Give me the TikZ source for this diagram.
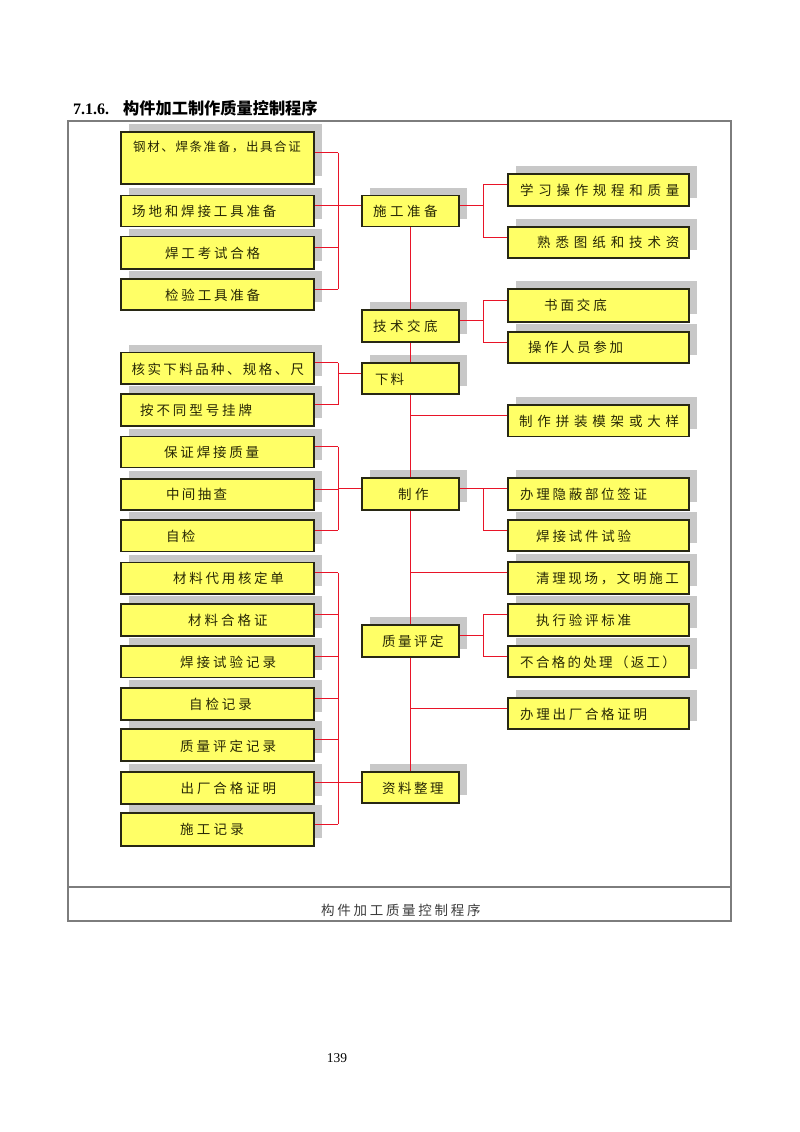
\documentclass[tikz,border=0pt]{standalone}
\usepackage{fontspec}
\setmainfont{Liberation Serif}
\newfontfamily\cjk{Noto Sans CJK SC}
\usetikzlibrary{fit}
\pgfdeclarelayer{bglayer}
\pgfdeclarelayer{shadowlayer}
\pgfdeclarelayer{linelayer}
\pgfsetlayers{bglayer,shadowlayer,linelayer,main}
\definecolor{boxyellow}{RGB}{255,255,102}
\definecolor{boxline}{RGB}{40,40,20}
\definecolor{shadowc}{RGB}{200,200,200}
\definecolor{linkred}{RGB}{232,20,40}
\definecolor{textc}{RGB}{40,40,5}
\definecolor{framec}{RGB}{125,125,125}
\definecolor{capc}{RGB}{60,60,60}
\makeatletter
\newcommand\spaced[2]{\def\my@pitch{#1}\my@spaced#2\relax}
\def\my@spaced#1{\ifx#1\relax\else\makebox[\my@pitch][l]{#1}\expandafter\my@spaced\fi}
\makeatother
\tikzset{
  ybx/.style={rectangle, draw=boxline, line width=1.3pt, fill=boxyellow, inner sep=0pt},
  txt/.style={inner sep=0pt, text=textc, font=\cjk\fontsize{13.5}{15}\selectfont},
  conn/.style={draw=linkred, line width=1pt},
  framestyle/.style={draw=framec, line width=1.4pt}
}
\newcommand\ybox[8]{%
  \begin{pgfonlayer}{shadowlayer}
    \fill[shadowc] (#2+8,#3-8) rectangle (#4+8,#5-8);
  \end{pgfonlayer}
  \node[ybx, fit={(#2,#3) (#4,#5)}] (#1) {};
  \coordinate (#1E) at ([yshift=5.5pt]#1.east);
  \coordinate (#1W) at ([yshift=5.5pt]#1.west);
  \node[txt, anchor=west] (#1t) at (#6,#7) {#8};
}
\begin{document}
\begin{tikzpicture}[x=1pt,y=-1pt]
\begin{pgfonlayer}{bglayer}
\fill[white] (0,0) rectangle (800,1132);
\end{pgfonlayer}
\useasboundingbox (0,0) rectangle (800,1132);

% title
\node[anchor=west, inner sep=0pt] (title) at (73,108)
  {\fontsize{16}{18}\selectfont\bfseries 7.1.6.\hspace{14pt}{\cjk\fontsize{16.2}{18}\selectfont\bfseries 构件加工制作质量控制程序}};

% frame
\draw[framestyle] (68,121) rectangle (731,921);
\draw[framestyle] (68,887) -- (731,887);
\node[anchor=west, inner sep=0pt, text=capc, font=\cjk\fontsize{13.5}{15}\selectfont] (caption) at (321,910)
  {\spaced{16.2pt}{构件加工质量控制程序}};
\node[inner sep=0pt, font=\fontsize{13.5}{15}\selectfont] (pagenum) at (337,1058) {139};

% left boxes
\ybox{L1}{121}{132}{314}{184}{133}{147}{\fontsize{12.5}{14}\selectfont\spaced{14.1pt}{钢材、焊条准备，出具合证}}
\ybox{L2}{121}{195.7}{314}{226.7}{132}{211.5}{\spaced{16.35pt}{场地和焊接工具准备}}
\ybox{L3}{121}{236.7}{314}{269}{165}{253}{\spaced{16.3pt}{焊工考试合格}}
\ybox{L4}{121}{279}{314}{310}{165}{295}{\spaced{16.3pt}{检验工具准备}}
\ybox{L5}{121}{352.7}{314}{384}{131.5}{369}{\spaced{15.9pt}{核实下料品种、规格、尺}}
\ybox{L6}{121}{394}{314}{426}{140}{410}{\spaced{16.4pt}{按不同型号挂牌}}
\ybox{L7}{121}{436.7}{314}{467.7}{164}{452}{\spaced{16.3pt}{保证焊接质量}}
\ybox{L8}{121}{479}{314}{510}{166}{494}{\spaced{15.8pt}{中间抽查}}
\ybox{L9}{121}{520}{314}{551.7}{166}{536.5}{\spaced{15.8pt}{自检}}
\ybox{L10}{121}{562.7}{314}{594}{173}{578}{\spaced{16.2pt}{材料代用核定单}}
\ybox{L11}{121}{604}{314}{636}{188}{620.5}{\spaced{16.5pt}{材料合格证}}
\ybox{L12}{121}{646}{314}{677.7}{180}{662}{\spaced{16.5pt}{焊接试验记录}}
\ybox{L13}{121}{688}{314}{720}{189}{704}{\spaced{16.4pt}{自检记录}}
\ybox{L14}{121}{729}{314}{761}{180}{746}{\spaced{16.5pt}{质量评定记录}}
\ybox{L15}{121}{772}{314}{804}{180.5}{788}{\spaced{16.4pt}{出厂合格证明}}
\ybox{L16}{121}{813}{314}{846}{180}{829}{\spaced{16.7pt}{施工记录}}

% centre boxes
\ybox{C1}{362}{195.7}{459}{226.7}{373}{211.5}{\spaced{17pt}{施工准备}}
\ybox{C2}{362}{310}{459}{342}{373}{326.5}{\spaced{17pt}{技术交底}}
\ybox{C3}{362}{363}{459}{394}{375}{379}{\spaced{15.5pt}{下料}}
\ybox{C4}{362}{478}{459}{510}{398}{494}{\spaced{17pt}{制作}}
\ybox{C5}{362}{625}{459}{657}{382}{641}{\spaced{16pt}{质量评定}}
\ybox{C6}{362}{772}{459}{803}{382}{788}{\spaced{16pt}{资料整理}}

% right boxes
\ybox{R1}{508}{174}{689}{206}{520}{190}{\spaced{18.2pt}{学习操作规程和质量}}
\ybox{R2}{508}{227}{689}{258}{537}{242}{\spaced{18.4pt}{熟悉图纸和技术资}}
\ybox{R3}{508}{289}{689}{322}{544}{305.5}{\spaced{16.4pt}{书面交底}}
\ybox{R4}{508}{332}{689}{363}{528}{347}{\spaced{16.3pt}{操作人员参加}}
\ybox{R5}{508}{405}{689}{436.7}{519}{421}{\spaced{18.3pt}{制作拼装模架或大样}}
\ybox{R6}{508}{478}{689}{510}{520}{494}{\spaced{16.2pt}{办理隐蔽部位签证}}
\ybox{R7}{508}{520}{689}{551}{536}{536.5}{\spaced{16.3pt}{焊接试件试验}}
\ybox{R8}{508}{562}{689}{594}{536}{578}{\spaced{16.15pt}{清理现场，文明施工}}
\ybox{R9}{508}{604}{689}{636}{536}{620.5}{\spaced{16.3pt}{执行验评标准}}
\ybox{R10}{508}{646}{689}{677}{520}{662}{\spaced{15.8pt}{不合格的处理（返工）}}
\ybox{R11}{508}{698}{689}{729}{520}{714}{\spaced{16.2pt}{办理出厂合格证明}}

% connectors
\begin{pgfonlayer}{linelayer}
\coordinate (busL) at (338,0);
\coordinate (busR) at (483,0);
% centre spine
\draw[conn] (C1.south) -- (C6.north);
\foreach \p in {R5W,R8W,R11W} \draw[conn] (\p -| C1.south) -- (\p);
% left group A
\foreach \p in {L1E,L2E,L3E,L4E} \draw[conn] (\p) -- (\p -| busL);
\draw[conn] (L1E -| busL) -- (L4E -| busL);
\draw[conn] (C1W -| busL) -- (C1W);
% left group B
\foreach \p in {L5E,L6E} \draw[conn] (\p) -- (\p -| busL);
\draw[conn] (L5E -| busL) -- (L6E -| busL);
\draw[conn] (C3W -| busL) -- (C3W);
% left group C
\foreach \p in {L7E,L8E,L9E} \draw[conn] (\p) -- (\p -| busL);
\draw[conn] (L7E -| busL) -- (L9E -| busL);
\draw[conn] (C4W -| busL) -- (C4W);
% left group D
\foreach \p in {L10E,L11E,L12E,L13E,L14E,L15E,L16E} \draw[conn] (\p) -- (\p -| busL);
\draw[conn] (L10E -| busL) -- (L16E -| busL);
\draw[conn] (C6W -| busL) -- (C6W);
% right groups
\draw[conn] (C1E) -- (C1E -| busR);
\draw[conn] (R1W -| busR) -- (R2W -| busR);
\foreach \p in {R1W,R2W} \draw[conn] (\p -| busR) -- (\p);
\draw[conn] (C2E) -- (C2E -| busR);
\draw[conn] (R3W -| busR) -- (R4W -| busR);
\foreach \p in {R3W,R4W} \draw[conn] (\p -| busR) -- (\p);
\draw[conn] (C4E) -- (C4E -| busR);
\draw[conn] (R6W -| busR) -- (R7W -| busR);
\foreach \p in {R6W,R7W} \draw[conn] (\p -| busR) -- (\p);
\draw[conn] (C5E) -- (C5E -| busR);
\draw[conn] (R9W -| busR) -- (R10W -| busR);
\foreach \p in {R9W,R10W} \draw[conn] (\p -| busR) -- (\p);
\end{pgfonlayer}
\end{tikzpicture}
\end{document}
